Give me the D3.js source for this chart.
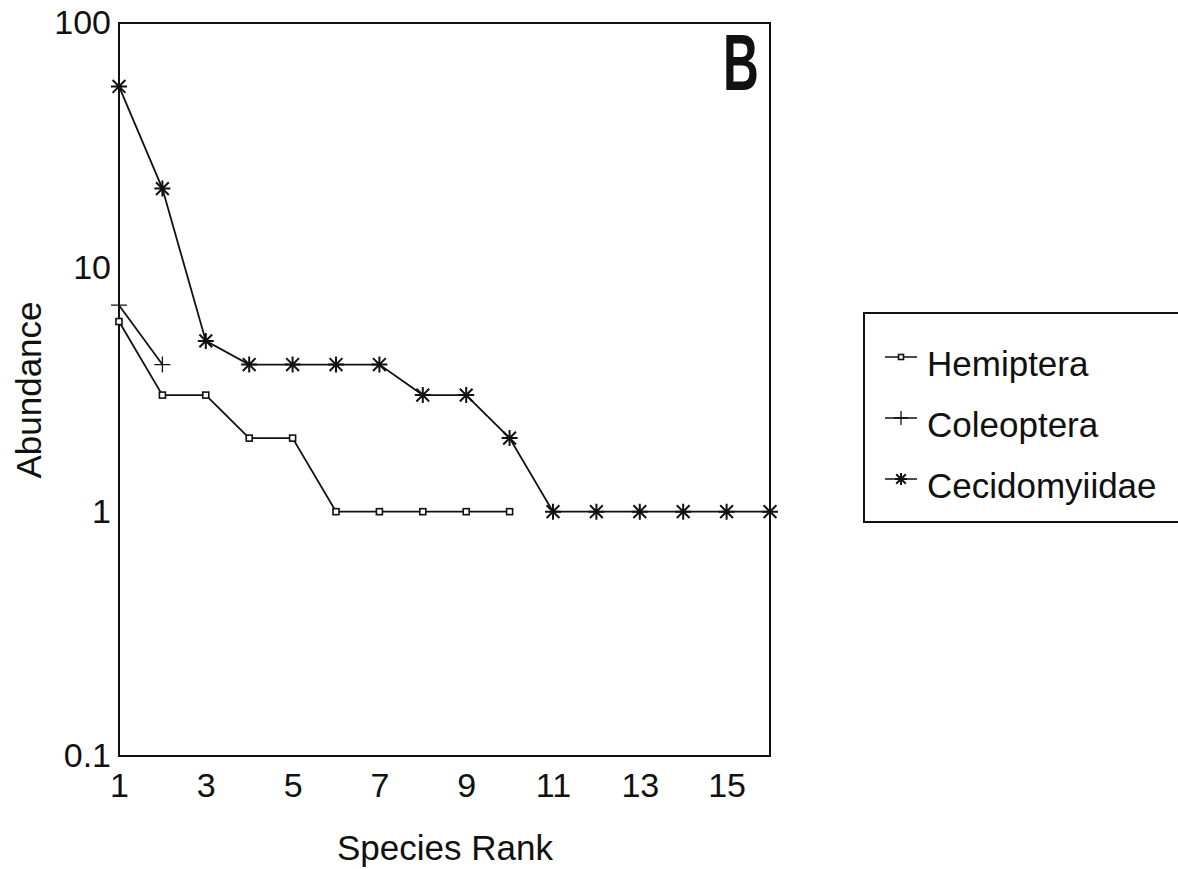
<!DOCTYPE html>
<html>
<head>
<meta charset="utf-8">
<script src="https://cdn.jsdelivr.net/npm/d3@7"></script>
<style>
  body { margin: 0; background: #fff; }
  svg { display: block; font-family: "Liberation Sans", Arial, sans-serif; }
</style>
</head>
<body>
<svg id="chart" width="1178" height="869"></svg>
<script>
// species rank-abundance
const hemiptera = [6, 3, 3, 2, 2, 1, 1, 1, 1, 1];
const coleoptera = [7, 4];
const cecidomyiidae = [55, 21, 5, 4, 4, 4, 4, 3, 3, 2, 1, 1, 1, 1, 1, 1];
const seriesNames = ["Hemiptera", "Coleoptera", "Cecidomyiidae"];
const xTicks = [1, 3, 5, 7, 9, 11, 13, 15];
const yTicks = [0.1, 1, 10, 100];

const svg = d3.select("#chart");
const plotL = 119, plotR = 770, plotT = 23, plotB = 756;

const x = d3.scaleLinear().domain([1, 16]).range([plotL, plotR]);
const y = d3.scaleLog().domain([0.1, 100]).range([plotB, plotT]);

// frame
svg.append("rect")
  .attr("x", plotL).attr("y", plotT)
  .attr("width", plotR - plotL).attr("height", plotB - plotT)
  .attr("fill", "none").attr("stroke", "#111").attr("stroke-width", 2);

// axes, labels only
const xa = svg.append("g").attr("transform", `translate(0,${plotB})`)
  .call(d3.axisBottom(x).tickValues(xTicks).tickSize(0).tickPadding(17).tickFormat(d3.format("d")));
xa.select(".domain").remove();
xa.attr("font-size", null).attr("font-family", null);
xa.selectAll("text").style("font-size", "34px").attr("fill", "#111");

const ya = svg.append("g").attr("transform", `translate(${plotL},0)`)
  .call(d3.axisLeft(y).tickValues(yTicks).tickSize(0).tickPadding(8).tickFormat(d => d < 1 ? "0.1" : String(d)));
ya.select(".domain").remove();
ya.attr("font-size", null).attr("font-family", null);
ya.selectAll("text").style("font-size", "34px").attr("fill", "#111");

svg.append("text").attr("x", 445).attr("y", 860).attr("text-anchor", "middle")
  .attr("font-size", 35).attr("fill", "#111").text("Species Rank");
svg.append("text").attr("transform", "translate(41,390) rotate(-90)").attr("text-anchor", "middle")
  .attr("font-size", 35).attr("fill", "#111").text("Abundance");

// panel letter, narrowed bold
svg.append("text").attr("transform", "translate(741,90) scale(0.62,1)").attr("text-anchor", "middle")
  .attr("font-weight", "bold").attr("font-size", 80).attr("fill", "#111")
  .text("B");

// marker drawers
function square(g, s) {
  g.append("rect").attr("x", -s).attr("y", -s).attr("width", 2 * s).attr("height", 2 * s)
    .attr("fill", "#fff").attr("stroke", "#111").attr("stroke-width", 1.6);
}
function plus(g, s) {
  g.append("path").attr("d", `M${-s},0H${s}M0,${-s}V${s}`)
    .attr("stroke", "#111").attr("stroke-width", 1.3).attr("fill", "none");
}
function star(g, s) {
  const d = s * 0.8;
  g.append("path").attr("d", `M${-d},${-d}L${d},${d}M${-d},${d}L${d},${-d}M0,${-s}V${s}M${-s},0H${s}`)
    .attr("stroke", "#111").attr("stroke-width", 2).attr("fill", "none");
}

const series = [
  { name: seriesNames[0], values: hemiptera, marker: g => square(g, 3) },
  { name: seriesNames[1], values: coleoptera, marker: g => plus(g, 8) },
  { name: seriesNames[2], values: cecidomyiidae, marker: g => star(g, 8) }
];

const line = d3.line().x((d, i) => x(i + 1)).y(d => y(d));

series.forEach(s => {
  svg.append("path").datum(s.values).attr("d", line)
    .attr("fill", "none").attr("stroke", "#111").attr("stroke-width", 1.8);
  svg.append("g").selectAll("g").data(s.values).join("g")
    .attr("transform", (d, i) => `translate(${x(i + 1)},${y(d)})`)
    .each(function () { s.marker(d3.select(this)); });
});

// legend, runs off the right edge
const lg = svg.append("g");
lg.append("path").attr("d", "M1178,313H864V522H1178")
  .attr("fill", "none").attr("stroke", "#111").attr("stroke-width", 2);
series.forEach((s, i) => {
  const cy = 365 + i * 61;
  lg.append("line").attr("x1", 885).attr("x2", 917).attr("y1", cy - 8).attr("y2", cy - 8)
    .attr("stroke", "#111").attr("stroke-width", 1.5);
  const m = lg.append("g").attr("transform", `translate(901,${cy - 8})`);
  if (i === 0) square(m, 2.5); else if (i === 1) plus(m, 7); else star(m, 6);
  lg.append("text").attr("x", 927).attr("y", cy + 11).attr("font-size", 35).attr("fill", "#111").text(s.name);
});
</script>
</body>
</html>
